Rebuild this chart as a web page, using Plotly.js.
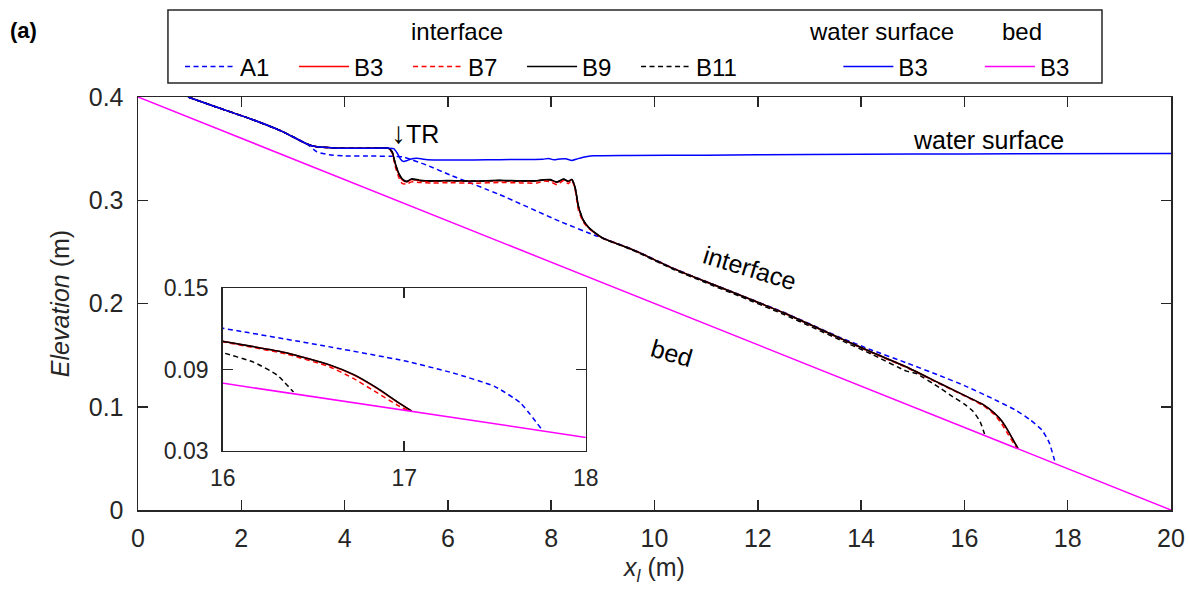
<!DOCTYPE html>
<html>
<head>
<meta charset="utf-8">
<script src="https://cdn.plot.ly/plotly-3.0.1.min.js"></script>
<style>html,body{margin:0;padding:0;background:#fff;}#chart{width:1189px;height:595px;}</style>
</head>
<body>
<div id="chart"></div>
<script>
// ---- data ----
const bedX = [0, 20];
const bedY = [0.400, 0.000];

const wsX = [0.97, 1.5, 2.17, 2.8, 3.27, 3.46, 3.8, 4.3, 4.85, 4.95, 5.02, 5.08, 5.14, 5.2, 5.27, 5.4, 5.5, 5.6, 6.0, 6.5, 7.0, 7.5, 7.84, 7.95, 8.05, 8.17, 8.28, 8.4, 8.5, 8.6, 8.7, 8.82, 9.5, 11.0, 13.0, 15.0, 17.0, 20.0];
const wsY = [0.400, 0.3905, 0.379, 0.3665, 0.3545, 0.3518, 0.3507, 0.3503, 0.3505, 0.3500, 0.3455, 0.3400, 0.3375, 0.3382, 0.3397, 0.3406, 0.3400, 0.3393, 0.3390, 0.3391, 0.3393, 0.3395, 0.3397, 0.3405, 0.3392, 0.3400, 0.3402, 0.3385, 0.3400, 0.3415, 0.3424, 0.3430, 0.3433, 0.3437, 0.3442, 0.3447, 0.3450, 0.3453];

const a1X = [0.97, 1.5, 2.17, 2.8, 3.27, 3.46, 3.7, 4.0, 4.5, 5.0, 5.13, 5.59, 6.04, 7.0, 8.17, 8.82, 9.01, 9.46, 9.72, 10.36, 11.0, 11.66, 12.5, 13.59, 14.2, 14.88, 15.53, 16.0, 16.54, 17.0, 17.27, 17.5, 17.64, 17.76];
const a1Y = [0.400, 0.3905, 0.379, 0.3665, 0.3545, 0.3470, 0.3440, 0.3430, 0.3428, 0.3425, 0.3420, 0.3340, 0.3245, 0.3055, 0.2795, 0.2665, 0.2632, 0.2548, 0.2493, 0.2343, 0.2213, 0.2083, 0.1915, 0.1672, 0.1550, 0.1425, 0.1300, 0.1205, 0.1080, 0.0965, 0.0875, 0.0775, 0.0655, 0.0455];

const b3X = [0.97, 1.5, 2.17, 2.8, 3.27, 3.46, 3.8, 4.3, 4.85, 4.92, 4.98, 5.05, 5.12, 5.2, 5.3, 5.45, 5.7, 6.0, 6.5, 7.0, 7.4, 7.72, 7.85, 7.98, 8.11, 8.24, 8.33, 8.40, 8.46, 8.53, 8.62, 8.72, 8.82, 9.01, 9.46, 9.72, 10.36, 11.0, 11.66, 12.5, 13.59, 14.2, 14.88, 15.53, 16.0, 16.35, 16.59, 16.72, 16.85, 16.96, 17.04];
const b3Y = [0.400, 0.3905, 0.379, 0.3665, 0.3545, 0.3518, 0.3507, 0.3503, 0.3503, 0.3465, 0.3350, 0.3250, 0.3195, 0.3178, 0.3200, 0.3190, 0.3184, 0.3188, 0.3183, 0.3189, 0.3184, 0.3186, 0.3195, 0.3196, 0.3172, 0.3202, 0.3180, 0.3200, 0.3125, 0.2930, 0.2805, 0.2738, 0.2694, 0.2630, 0.2545, 0.2490, 0.2340, 0.2210, 0.2080, 0.1910, 0.1665, 0.1530, 0.1385, 0.1225, 0.1110, 0.1025, 0.0933, 0.0862, 0.0762, 0.0662, 0.0595];

const b7X = [0.97, 1.5, 2.17, 2.8, 3.27, 3.46, 3.8, 4.3, 4.85, 4.92, 4.98, 5.05, 5.12, 5.2, 5.3, 5.45, 5.7, 6.0, 6.5, 7.0, 7.4, 7.72, 7.85, 7.98, 8.11, 8.24, 8.33, 8.40, 8.46, 8.53, 8.62, 8.72, 8.82, 9.01, 9.46, 9.72, 10.36, 11.0, 11.66, 12.5, 13.59, 14.2, 14.88, 15.53, 16.0, 16.35, 16.59, 16.72, 16.85, 16.96, 17.02];
const b7Y = [0.400, 0.3905, 0.379, 0.3665, 0.3545, 0.3518, 0.3507, 0.3503, 0.3503, 0.3460, 0.3330, 0.3220, 0.3160, 0.3158, 0.3178, 0.3172, 0.3166, 0.3170, 0.3165, 0.3172, 0.3168, 0.3166, 0.3185, 0.3180, 0.3150, 0.3192, 0.3160, 0.3195, 0.3110, 0.2900, 0.2790, 0.2730, 0.2690, 0.2628, 0.2543, 0.2488, 0.2338, 0.2208, 0.2078, 0.1908, 0.1662, 0.1525, 0.1380, 0.1220, 0.1105, 0.1015, 0.0920, 0.0835, 0.0730, 0.0640, 0.0598];

const b9X = [0.97, 1.5, 2.17, 2.8, 3.27, 3.46, 3.8, 4.3, 4.85, 4.92, 4.98, 5.05, 5.12, 5.2, 5.3, 5.45, 5.7, 6.0, 6.5, 7.0, 7.4, 7.72, 7.85, 7.98, 8.11, 8.24, 8.33, 8.40, 8.46, 8.53, 8.62, 8.72, 8.82, 9.01, 9.46, 9.72, 10.36, 11.0, 11.66, 12.5, 13.59, 14.2, 14.88, 15.53, 16.0, 16.35, 16.59, 16.72, 16.85, 16.96, 17.04];
const b9Y = [0.400, 0.3905, 0.379, 0.3665, 0.3545, 0.3518, 0.3507, 0.3503, 0.3503, 0.3470, 0.3360, 0.3260, 0.3205, 0.3183, 0.3208, 0.3195, 0.3188, 0.3192, 0.3187, 0.3193, 0.3188, 0.3190, 0.3198, 0.3200, 0.3178, 0.3205, 0.3185, 0.3202, 0.3130, 0.2938, 0.2810, 0.2740, 0.2696, 0.2631, 0.2545, 0.2490, 0.2340, 0.2210, 0.2080, 0.1910, 0.1665, 0.1530, 0.1385, 0.1225, 0.1110, 0.1025, 0.0935, 0.0865, 0.0765, 0.0665, 0.0595];

const b11X = [0.97, 1.5, 2.17, 2.8, 3.27, 3.46, 3.8, 4.3, 4.85, 4.92, 4.98, 5.05, 5.12, 5.2, 5.3, 5.45, 5.7, 6.0, 6.5, 7.0, 7.4, 7.72, 7.85, 7.98, 8.11, 8.24, 8.33, 8.40, 8.46, 8.53, 8.62, 8.72, 8.82, 9.01, 9.46, 9.72, 10.36, 11.0, 11.66, 12.5, 13.59, 14.2, 14.88, 15.08, 15.53, 15.72, 16.0, 16.17, 16.3, 16.39];
const b11Y = [0.400, 0.3905, 0.379, 0.3665, 0.3545, 0.3518, 0.3507, 0.3503, 0.3503, 0.3468, 0.3355, 0.3255, 0.3200, 0.3180, 0.3204, 0.3192, 0.3186, 0.3190, 0.3185, 0.3191, 0.3186, 0.3188, 0.3196, 0.3198, 0.3175, 0.3203, 0.3183, 0.3200, 0.3128, 0.2935, 0.2808, 0.2738, 0.2694, 0.2628, 0.2540, 0.2484, 0.2332, 0.2200, 0.2068, 0.1895, 0.1648, 0.1510, 0.1345, 0.1320, 0.1180, 0.1115, 0.1025, 0.0955, 0.0860, 0.0735];

const xTicks = [0, 2, 4, 6, 8, 10, 12, 14, 16, 18, 20];
const yTicks = [0, 0.1, 0.2, 0.3, 0.4];
const insetXTicks = [16, 17, 18];
const insetYTicks = [0.03, 0.09, 0.15];
const legendHeaders = ['interface', 'water surface', 'bed'];

// ---- styles ----
const BLUE = '#0000FF', RED = '#FF0000', BLACK = '#000000', MAGENTA = '#FF00FF';
const AX = '#262626';
const FONT = 'Liberation Sans, Arial, Helvetica, sans-serif';
const LW = 1.5;
const DASH = '5px,3.5px';

const series = [
  {x: a1X, y: a1Y, name: 'A1', color: BLUE, dash: DASH, legend: 'legend'},
  {x: b3X, y: b3Y, name: 'B3', color: RED, dash: 'solid', legend: 'legend'},
  {x: b7X, y: b7Y, name: 'B7', color: RED, dash: DASH, legend: 'legend'},
  {x: b9X, y: b9Y, name: 'B9', color: BLACK, dash: 'solid', legend: 'legend'},
  {x: b11X, y: b11Y, name: 'B11', color: BLACK, dash: DASH, legend: 'legend'},
  {x: wsX, y: wsY, name: 'B3', color: BLUE, dash: 'solid', legend: 'legend2'},
  {x: bedX, y: bedY, name: 'B3', color: MAGENTA, dash: 'solid', legend: 'legend3'}
];

const traces = [];
series.forEach(s => {
  traces.push({x: s.x, y: s.y, name: s.name, type: 'scatter', mode: 'lines',
    line: {color: s.color, width: LW, dash: s.dash, shape: 'spline', smoothing: 0.5}, legend: s.legend,
    xaxis: 'x', yaxis: 'y', hoverinfo: 'skip'});
});
series.forEach(s => {
  traces.push({x: s.x, y: s.y, name: s.name, type: 'scatter', mode: 'lines',
    line: {color: s.color, width: LW, dash: s.dash, shape: 'spline', smoothing: 0.5}, showlegend: false,
    xaxis: 'x2', yaxis: 'y2', hoverinfo: 'skip'});
});

function axisBase() {
  return {showline: true, linecolor: AX, linewidth: 1.5, mirror: 'ticks',
    ticks: 'inside', ticklen: 10, tickwidth: 1.5, tickcolor: AX,
    showgrid: false, zeroline: false, fixedrange: true,
    tickfont: {family: FONT, size: 25, color: AX}};
}

const xaxis = Object.assign(axisBase(), {domain: [0, 1], range: [0, 20], tickmode: 'array', tickvals: xTicks,
  anchor: 'y', ticklabelstandoff: 5,
  title: {text: '<i>x</i><sub><i>l</i></sub> (m)', font: {family: FONT, size: 25, color: AX}, standoff: 8}});
const yaxis = Object.assign(axisBase(), {domain: [0, 1], range: [0, 0.4], tickmode: 'array', tickvals: yTicks,
  anchor: 'x', ticklabelstandoff: 8,
  title: {text: '<i>Elevation</i> (m)', font: {family: FONT, size: 25, color: AX}, standoff: 12}});
const xaxis2 = Object.assign(axisBase(), {domain: [0.082, 0.4334], range: [16, 18], tickmode: 'array', tickvals: insetXTicks,
  anchor: 'y2', ticklabelstandoff: 6});
xaxis2.tickfont = {family: FONT, size: 23, color: AX};
const yaxis2 = Object.assign(axisBase(), {domain: [0.1429, 0.5368], range: [0.03, 0.15], tickmode: 'array', tickvals: insetYTicks,
  anchor: 'x2', ticklabelstandoff: 8});
yaxis2.tickfont = {family: FONT, size: 23, color: AX};

function legendBase(x) {
  return {orientation: 'h', x: x, xanchor: 'left', y: 1.0726, yanchor: 'middle',
    itemwidth: 50, entrywidth: 49, entrywidthmode: 'pixels',
    bgcolor: 'rgba(0,0,0,0)', borderwidth: 0, tracegroupgap: 0,
    font: {family: FONT, size: 24, color: BLACK},
    itemclick: false, itemdoubleclick: false};
}

function header(text, x) {
  return {text: text, xref: 'paper', yref: 'paper', x: x, y: 1.1574, xanchor: 'center', yanchor: 'middle',
    showarrow: false, font: {family: FONT, size: 24, color: BLACK}};
}

const layout = {
  width: 1189, height: 595,
  margin: {l: 138, r: 18, t: 97, b: 85, pad: 0},
  paper_bgcolor: '#ffffff', plot_bgcolor: '#ffffff',
  font: {family: FONT, size: 24, color: AX},
  showlegend: true,
  xaxis: xaxis, yaxis: yaxis, xaxis2: xaxis2, yaxis2: yaxis2,
  legend: legendBase(0.0407),
  legend2: legendBase(0.678),
  legend3: legendBase(0.815),
  shapes: [
    {type: 'rect', xref: 'paper', yref: 'paper', x0: 0.029, x1: 0.9332, y0: 1.0339, y1: 1.2107,
     line: {color: AX, width: 1.5}, fillcolor: 'rgba(0,0,0,0)', layer: 'above'}
  ],
  annotations: [
    header(legendHeaders[0], 0.3088),
    header(legendHeaders[1], 0.7202),
    header(legendHeaders[2], 0.8558),
    {text: '<b>(a)</b>', xref: 'paper', yref: 'paper', x: -0.126, y: 1.160, xanchor: 'left', yanchor: 'middle',
     showarrow: false, font: {family: FONT, size: 22, color: BLACK}},
    {text: '<span style="font-size:30px">\u2193</span>TR', xref: 'x', yref: 'y', x: 5.36, y: 0.366, xanchor: 'center', yanchor: 'middle',
     showarrow: false, font: {family: FONT, size: 25, color: BLACK}},
    {text: 'water surface', xref: 'x', yref: 'y', x: 16.46, y: 0.358, xanchor: 'center', yanchor: 'middle',
     showarrow: false, font: {family: FONT, size: 25, color: BLACK}},
    {text: 'interface', xref: 'x', yref: 'y', x: 11.85, y: 0.2344, xanchor: 'center', yanchor: 'middle',
     textangle: 17, showarrow: false, font: {family: FONT, size: 25, color: BLACK}},
    {text: 'bed', xref: 'x', yref: 'y', x: 10.34, y: 0.152, xanchor: 'center', yanchor: 'middle',
     textangle: 16, showarrow: false, font: {family: FONT, size: 25, color: BLACK}}
  ]
};

Plotly.newPlot('chart', traces, layout, {staticPlot: true, displayModeBar: false});
</script>
</body>
</html>
